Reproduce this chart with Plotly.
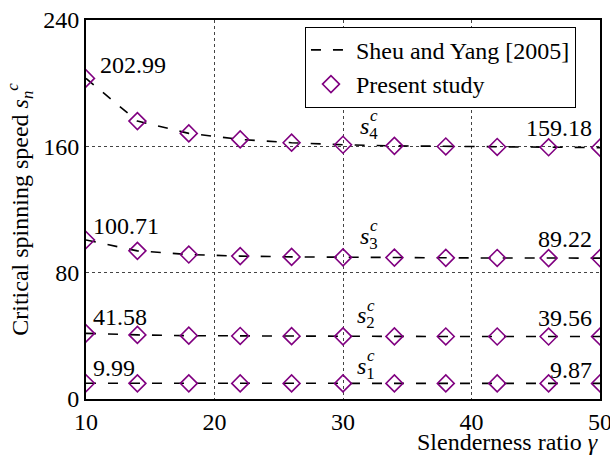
import plotly.graph_objects as go

gamma = [10, 14, 18, 22, 26, 30, 34, 38, 42, 46, 50]

# Sheu and Yang [2005] (reference curves)
ref_s1 = [9.99, 9.93, 9.90, 9.89, 9.88, 9.88, 9.875, 9.87, 9.87, 9.87, 9.87]
ref_s2 = [41.58, 40.6, 40.1, 39.9, 39.8, 39.7, 39.65, 39.6, 39.58, 39.57, 39.56]
ref_s3 = [100.71, 93.8, 91.5, 90.5, 90.0, 89.7, 89.55, 89.4, 89.3, 89.25, 89.22]
ref_s4 = [202.99, 176.0, 168.2, 164.4, 162.3, 161.0, 160.3, 159.9, 159.6, 159.4, 159.18]

# Present study
pre_s1 = [9.99, 9.93, 9.90, 9.89, 9.88, 9.88, 9.875, 9.87, 9.87, 9.87, 9.87]
pre_s2 = [41.58, 40.6, 40.1, 39.9, 39.8, 39.7, 39.65, 39.6, 39.58, 39.57, 39.56]
pre_s3 = [100.71, 93.8, 91.5, 90.5, 90.0, 89.7, 89.55, 89.4, 89.3, 89.25, 89.22]
pre_s4 = [202.99, 176.0, 168.2, 164.4, 162.3, 161.0, 160.3, 159.9, 159.6, 159.4, 159.18]

x_ticks = [10, 20, 30, 40, 50]
y_ticks = [0, 80, 160, 240]

FONT = "Liberation Serif"
FS = 24

fig = go.Figure()
refs = [ref_s1, ref_s2, ref_s3, ref_s4]
pres = [pre_s1, pre_s2, pre_s3, pre_s4]
for i, r in enumerate(refs):
    fig.add_trace(go.Scatter(x=gamma, y=r, mode="lines",
                             line=dict(color="black", width=1.6, dash="10px,12px"),
                             name="Sheu and Yang [2005]", showlegend=(i == 0)))
for i, p in enumerate(pres):
    fig.add_trace(go.Scatter(x=gamma, y=p, mode="markers",
                             marker=dict(symbol="diamond-open", size=13, color="#800080",
                                         line=dict(width=1.6, color="#800080")),
                             name="Present study", showlegend=(i == 0)))

def txt(x, y, t, xa="left", size=FS, xshift=0, yshift=0):
    fig.add_annotation(x=x, y=y, text=t, showarrow=False, xanchor=xa, yanchor="middle",
                       font=dict(family=FONT, size=size, color="black"),
                       xshift=xshift, yshift=yshift)

txt(10.9, 211.5, "202.99")
txt(10.4, 109.6, "100.71")
txt(10.4, 52, "41.58")
txt(10.4, 19.6, "9.99")
txt(49.5, 171.6, "159.18", xa="right")
txt(49.5, 101.3, "89.22", xa="right")
txt(49.5, 51.3, "39.56", xa="right")
txt(49.5, 18.4, "9.87", xa="right")
for k, (xx, yy) in enumerate([(30.9, 18.4), (30.9, 50.5), (31.2, 101.0), (31.2, 170.5)]):
    txt(xx, yy, "<i>s</i><sub>%d</sub>" % (k + 1), size=FS, yshift=2)
    txt(xx, yy, "<i>c</i>", size=17, xshift=10, yshift=14)

fig.add_annotation(x=1.0, y=-0.075, xref="paper", yref="paper", text="Slenderness ratio <i>γ</i>",
                   showarrow=False, xanchor="right", yanchor="top",
                   font=dict(family=FONT, size=FS, color="black"))

fig.update_layout(
    width=610, height=456,
    margin=dict(l=86, r=10, t=20, b=57),
    paper_bgcolor="white", plot_bgcolor="white",
    font=dict(family=FONT, size=FS, color="black"),
    legend=dict(x=0.426, y=0.982, xanchor="left", yanchor="top",
                bordercolor="black", borderwidth=1, bgcolor="white",
                font=dict(family=FONT, size=FS, color="black"), tracegroupgap=0,
                itemwidth=40),
    xaxis=dict(range=[10, 50], tickvals=x_ticks,
               ticktext=[str(v) for v in x_ticks],
               showgrid=True, gridcolor="#444", griddash="dot", gridwidth=1,
               showline=True, linecolor="black", linewidth=2, mirror=True,
               zeroline=False, ticks="",
               tickfont=dict(family=FONT, size=FS, color="black"),
               automargin=False, ticklabeloverflow="allow"),
    yaxis=dict(range=[0, 240], tickvals=y_ticks,
               ticktext=[str(v) for v in y_ticks],
               showgrid=True, gridcolor="#444", griddash="dot", gridwidth=1,
               showline=True, linecolor="black", linewidth=2, mirror=True,
               zeroline=False, ticks="",
               tickfont=dict(family=FONT, size=FS, color="black"),
               automargin=False,
               title=dict(text="Critical spinning speed <i>s</i><sub><i>n</i></sub><sup><i>c</i></sup>",
                          font=dict(family=FONT, size=FS, color="black"), standoff=8)),
)

fig.write_html("out.html")
